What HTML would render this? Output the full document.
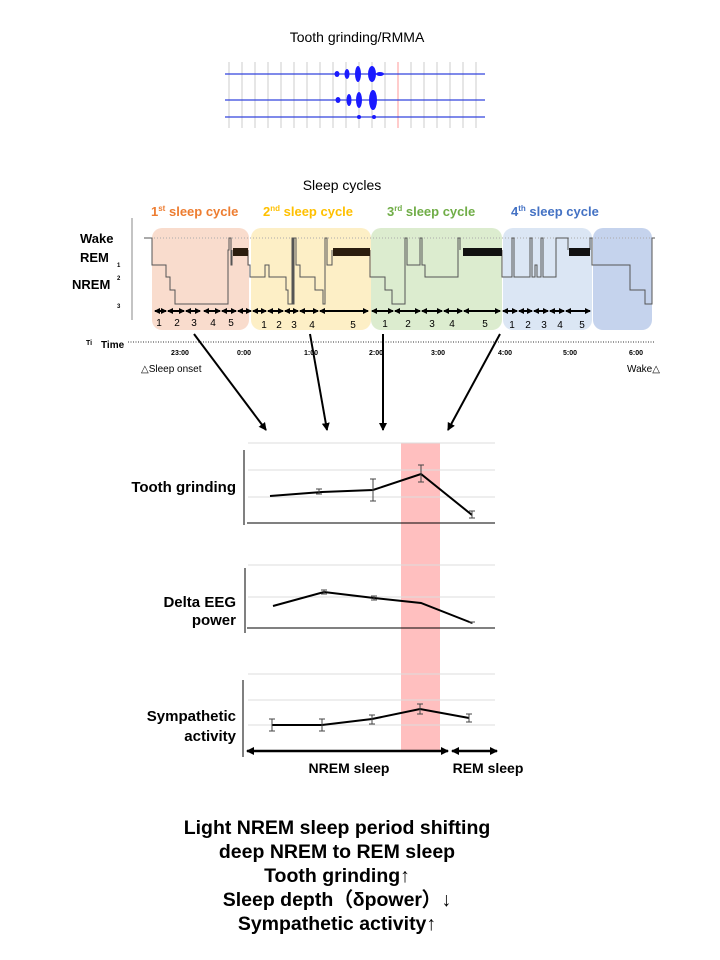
<!DOCTYPE html>
<html><head><meta charset="utf-8"><style>
body{margin:0;background:#fff}
svg{display:block;font-family:"Liberation Sans",Arial,sans-serif}
</style></head><body>
<svg width="720" height="960" viewBox="0 0 720 960" xmlns="http://www.w3.org/2000/svg">
<defs>
<marker id="ah" markerWidth="8" markerHeight="8" refX="7" refY="4" orient="auto-start-reverse" markerUnits="userSpaceOnUse"><path d="M0,0 L8,4 L0,8 z" fill="#000"/></marker>
<marker id="sa" markerWidth="6" markerHeight="6" refX="5" refY="3" orient="auto-start-reverse" markerUnits="userSpaceOnUse"><path d="M0,0 L6,3 L0,6 z" fill="#000"/></marker>
</defs>
<text x="357" y="42" font-size="14" text-anchor="middle">Tooth grinding/RMMA</text>
<g stroke="#ccc" stroke-width="1">
<line x1="229" y1="62" x2="229" y2="128"/><line x1="242" y1="62" x2="242" y2="128"/><line x1="255" y1="62" x2="255" y2="128"/><line x1="268" y1="62" x2="268" y2="128"/><line x1="281" y1="62" x2="281" y2="128"/><line x1="294" y1="62" x2="294" y2="128"/><line x1="307" y1="62" x2="307" y2="128"/><line x1="320" y1="62" x2="320" y2="128"/><line x1="333" y1="62" x2="333" y2="128"/><line x1="346" y1="62" x2="346" y2="128"/><line x1="359" y1="62" x2="359" y2="128"/><line x1="372" y1="62" x2="372" y2="128"/><line x1="385" y1="62" x2="385" y2="128"/><line x1="411" y1="62" x2="411" y2="128"/><line x1="424" y1="62" x2="424" y2="128"/><line x1="437" y1="62" x2="437" y2="128"/><line x1="450" y1="62" x2="450" y2="128"/><line x1="463" y1="62" x2="463" y2="128"/><line x1="476" y1="62" x2="476" y2="128"/>
</g>
<line x1="398" y1="62" x2="398" y2="128" stroke="#f99" stroke-width="1"/>
<g stroke="#3344dd" stroke-width="1.2"><line x1="225" y1="74" x2="485" y2="74"/><line x1="225" y1="100" x2="485" y2="100"/><line x1="225" y1="117" x2="485" y2="117"/></g>
<g fill="#1a1aff">
<ellipse cx="337" cy="74" rx="2.5" ry="3"/><ellipse cx="347" cy="74" rx="2.5" ry="5"/><ellipse cx="358" cy="74" rx="3" ry="8"/><ellipse cx="372" cy="74" rx="4" ry="8"/><ellipse cx="380" cy="74" rx="4" ry="2"/>
<ellipse cx="338" cy="100" rx="2.5" ry="3"/><ellipse cx="349" cy="100" rx="2.5" ry="6"/><ellipse cx="359" cy="100" rx="3" ry="8"/><ellipse cx="373" cy="100" rx="4" ry="10"/>
<ellipse cx="359" cy="117" rx="2" ry="2"/><ellipse cx="374" cy="117" rx="2" ry="2"/>
</g>

<text x="342" y="190" font-size="14" text-anchor="middle">Sleep cycles</text>
<g font-size="13" font-weight="bold">
<text x="151" y="216" fill="#ed7d31">1<tspan font-size="8" dy="-5">st</tspan><tspan dy="5"> sleep cycle</tspan></text>
<text x="263" y="216" fill="#ffc000">2<tspan font-size="8" dy="-5">nd</tspan><tspan dy="5"> sleep cycle</tspan></text>
<text x="387" y="216" fill="#70ad47">3<tspan font-size="8" dy="-5">rd</tspan><tspan dy="5"> sleep cycle</tspan></text>
<text x="511" y="216" fill="#4472c4">4<tspan font-size="8" dy="-5">th</tspan><tspan dy="5"> sleep cycle</tspan></text>
</g>
<rect x="152" y="228" width="97" height="102" rx="10" fill="#f9dccd"/>
<rect x="251" y="228" width="120" height="102" rx="10" fill="#fdefc6"/>
<rect x="371" y="228" width="131" height="102" rx="10" fill="#dceccf"/>
<rect x="503" y="228" width="89" height="102" rx="10" fill="#dbe6f4"/>
<rect x="593" y="228" width="59" height="102" rx="10" fill="#c5d3ed"/>
<line x1="132" y1="218" x2="132" y2="320" stroke="#888"/>
<line x1="148" y1="238" x2="655" y2="238" stroke="#aaa" stroke-dasharray="1,2"/>
<g font-size="13" font-weight="bold"><text x="80" y="243">Wake</text><text x="80" y="262">REM</text><text x="72" y="289">NREM</text></g>
<g font-size="6" font-weight="bold"><text x="117" y="267">1</text><text x="117" y="280">2</text><text x="117" y="308">3</text></g>
<path d="M144,238 H152 V265 H166 V277 H170 V290 H175 V304 H228 V250 H229 V238 H231 V265 H232 V250 M248,250 V265 H250 V277 H265 V265 H269 V277 H286 V290 H288 V304 H292 V238 H293 V304 H294 V238 H296 V265 H300 V277 H315 V290 H323 V304 H325 V238 H327 V265 H332 V250 M370,250 V277 H385 V290 H392 V304 H405 V238 H407 V265 H420 V238 H422 V265 H425 V277 H458 V238 H460 V250 M502,250 V277 H512 V238 H514 V277 H530 V238 H532 V277 H535 V265 H537 V277 H541 V238 H543 V277 H556 V238 H566 V238 H568 V250 M590,250 V238 H592 V265 H630 V290 H645 V304 H652 V238 H655" fill="none" stroke="#555" stroke-width="1"/>
<g fill="#2b1d0e"><rect x="233" y="248" width="15" height="8"/><rect x="333" y="248" width="37" height="8"/><rect x="463" y="248" width="39" height="8" fill="#111"/><rect x="569" y="248" width="21" height="8" fill="#111"/></g>
<g stroke="#000" stroke-width="2" marker-start="url(#sa)" marker-end="url(#sa)">
<line x1="155" y1="311" x2="166" y2="311"/><line x1="168" y1="311" x2="184" y2="311"/><line x1="186" y1="311" x2="200" y2="311"/><line x1="204" y1="311" x2="220" y2="311"/><line x1="222" y1="311" x2="236" y2="311"/><line x1="238" y1="311" x2="251" y2="311"/>
<line x1="253" y1="311" x2="266" y2="311"/><line x1="268" y1="311" x2="283" y2="311"/><line x1="285" y1="311" x2="298" y2="311"/><line x1="300" y1="311" x2="318" y2="311"/><line x1="320" y1="311" x2="368" y2="311"/>
<line x1="372" y1="311" x2="393" y2="311"/><line x1="395" y1="311" x2="420" y2="311"/><line x1="422" y1="311" x2="442" y2="311"/><line x1="444" y1="311" x2="462" y2="311"/><line x1="464" y1="311" x2="500" y2="311"/>
<line x1="503" y1="311" x2="517" y2="311"/><line x1="519" y1="311" x2="532" y2="311"/><line x1="534" y1="311" x2="548" y2="311"/><line x1="550" y1="311" x2="564" y2="311"/><line x1="566" y1="311" x2="590" y2="311"/>
</g>
<g font-size="10" text-anchor="middle">
<text x="159" y="326">1</text><text x="177" y="326">2</text><text x="194" y="326">3</text><text x="213" y="326">4</text><text x="231" y="326">5</text>
<text x="264" y="328">1</text><text x="279" y="328">2</text><text x="294" y="328">3</text><text x="312" y="328">4</text><text x="353" y="328">5</text>
<text x="385" y="327">1</text><text x="408" y="327">2</text><text x="432" y="327">3</text><text x="452" y="327">4</text><text x="485" y="327">5</text>
<text x="512" y="328">1</text><text x="528" y="328">2</text><text x="544" y="328">3</text><text x="560" y="328">4</text><text x="582" y="328">5</text>
</g>
<text x="86" y="345" font-size="7" font-weight="bold">Ti</text>
<text x="101" y="348" font-size="10" font-weight="bold">Time</text>
<line x1="128" y1="342" x2="655" y2="342" stroke="#777" stroke-width="1.5" stroke-dasharray="1,1.5"/>
<g font-size="7" font-weight="bold" text-anchor="middle">
<text x="180" y="355">23:00</text><text x="244" y="355">0:00</text><text x="311" y="355">1:00</text><text x="376" y="355">2:00</text><text x="438" y="355">3:00</text><text x="505" y="355">4:00</text><text x="570" y="355">5:00</text><text x="636" y="355">6:00</text>
</g>
<text x="141" y="372" font-size="10">△Sleep onset</text>
<text x="627" y="372" font-size="10">Wake△</text>
<g stroke="#000" stroke-width="2" marker-end="url(#ah)">
<line x1="194" y1="334" x2="266" y2="430"/><line x1="310" y1="334" x2="327" y2="430"/><line x1="383" y1="334" x2="383" y2="430"/><line x1="500" y1="334" x2="448" y2="430"/>
</g>

<rect x="401" y="443" width="39" height="308" fill="#ffbfbf"/>
<g stroke="#ddd" stroke-width="1">
<line x1="248" y1="443" x2="495" y2="443"/><line x1="248" y1="470" x2="495" y2="470"/><line x1="248" y1="497" x2="495" y2="497"/>
<line x1="248" y1="565" x2="495" y2="565"/><line x1="248" y1="597" x2="495" y2="597"/>
<line x1="248" y1="674" x2="495" y2="674"/><line x1="248" y1="700" x2="495" y2="700"/><line x1="248" y1="725" x2="495" y2="725"/>
</g>
<g stroke="#000" stroke-width="1">
<line x1="244" y1="450" x2="244" y2="525"/><line x1="247" y1="523" x2="495" y2="523"/>
<line x1="245" y1="568" x2="245" y2="633"/><line x1="247" y1="628" x2="495" y2="628"/>
<line x1="243" y1="680" x2="243" y2="757"/>
</g>
<g fill="none" stroke="#000" stroke-width="2">
<polyline points="270,496 322,492 373,490 421,474 472,515"/>
<polyline points="273,606 324,592 374,598 421,603 472,623"/>
<polyline points="272,725 322,725 372,719 420,709 469,718"/>
</g>
<g stroke="#444" stroke-width="1">
<path d="M319,489V494M316,489H322M316,494H322 M373,479V501M370,479H376M370,501H376 M421,465V482M418,465H424M418,482H424 M472,511V518M469,511H475M469,518H475"/>
<path d="M324,590V594M321,590H327M321,594H327 M374,596V600M371,596H377M371,600H377 M472,622V624M469,622H475"/>
<path d="M272,719V731M269,719H275M269,731H275 M322,719V731M319,719H325M319,731H325 M372,715V724M369,715H375M369,724H375 M420,704V714M417,704H423M417,714H423 M469,714V722M466,714H472M466,722H472"/>
</g>
<g font-size="15" font-weight="bold" text-anchor="end">
<text x="236" y="492">Tooth grinding</text>
<text x="236" y="607">Delta EEG</text><text x="236" y="625">power</text>
<text x="236" y="721">Sympathetic</text><text x="236" y="741">activity</text>
</g>
<g stroke="#000" stroke-width="2.5" marker-start="url(#ah)" marker-end="url(#ah)">
<line x1="247" y1="751" x2="448" y2="751"/><line x1="452" y1="751" x2="497" y2="751"/>
</g>
<g font-size="14" font-weight="bold" text-anchor="middle"><text x="349" y="773">NREM sleep</text><text x="488" y="773">REM sleep</text></g>
<g font-size="19.5" font-weight="bold" text-anchor="middle">
<text x="337" y="834">Light NREM sleep period shifting</text>
<text x="337" y="858">deep NREM to REM sleep</text>
<text x="337" y="882">Tooth grinding↑</text>
<text x="337" y="906">Sleep depth（δpower）↓</text>
<text x="337" y="930">Sympathetic activity↑</text>
</g>
</svg>
</body></html>
